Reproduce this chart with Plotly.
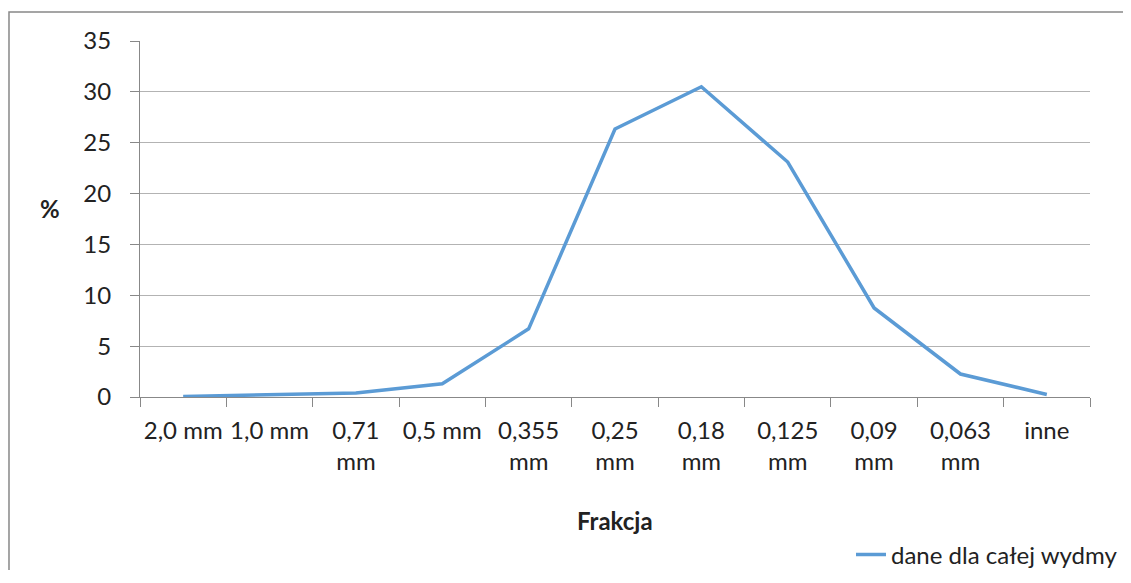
import plotly.graph_objects as go

categories = ["2,0 mm", "1,0 mm", "0,71<br>mm", "0,5 mm", "0,355<br>mm", "0,25<br>mm",
              "0,18<br>mm", "0,125<br>mm", "0,09<br>mm", "0,063<br>mm", "inne"]
values = [0.05, 0.2, 0.4, 1.3, 6.7, 26.35, 30.5, 23.1, 8.75, 2.26, 0.25]
series_name = "dane dla całej wydmy"
y_ticks = [0, 5, 10, 15, 20, 25, 30, 35]

FONT = "Lato"
FS = 24
fig = go.Figure()
fig.add_trace(go.Scatter(x=categories, y=values, mode="lines", name=series_name,
                         line=dict(color="#5B9BD5", width=3.5), showlegend=True))

fig.update_layout(
    width=1115, height=562,
    margin=dict(l=132, r=33, t=33, b=173, autoexpand=False),
    paper_bgcolor="white", plot_bgcolor="white",
    font=dict(family=FONT, size=FS, color="#222222"),
    showlegend=True,
    legend=dict(xref="container", yref="container", x=1.0, xanchor="right",
                y=0.027, yanchor="middle",
                font=dict(family=FONT, size=FS, color="#222222"),
                bgcolor="rgba(0,0,0,0)"),
    xaxis=dict(type="category", tickson="boundaries", ticks="outside", ticklen=9,
               tickcolor="#888888", showgrid=False, showline=True, linecolor="#888888",
               linewidth=1, tickfont=dict(family=FONT, size=FS, color="#222222"),
               tickangle=0, ticklabelstandoff=12, range=[-0.5, 10.5]),
    yaxis=dict(range=[0, 35], tickvals=y_ticks, ticks="outside", ticklen=9,
               tickcolor="#888888", showgrid=True, gridcolor="#b3b3b3", gridwidth=1,
               showline=True, linecolor="#888888", linewidth=1, zeroline=False,
               ticklabelstandoff=14, tickfont=dict(family=FONT, size=FS, color="#222222")),
    annotations=[
        dict(text="<b>Frakcja</b>", x=0.5, xref="paper", y=-0.347, yref="paper",
             showarrow=False, xanchor="center", yanchor="middle",
             font=dict(family=FONT, size=FS, color="#222222")),
        dict(text="<b>%</b>", x=-0.095, xref="paper", y=0.53, yref="paper",
             showarrow=False, xanchor="center", yanchor="middle",
             font=dict(family=FONT, size=FS, color="#222222")),
    ],
    shapes=[dict(type="path", xref="paper", yref="paper",
                 path="M -0.1379,-0.6 L -0.1379,1.0815 L 1.1,1.0815",
                 line=dict(color="#888888", width=1.5), fillcolor="rgba(0,0,0,0)",
                 layer="below")],
)

fig.write_html("out.html")
